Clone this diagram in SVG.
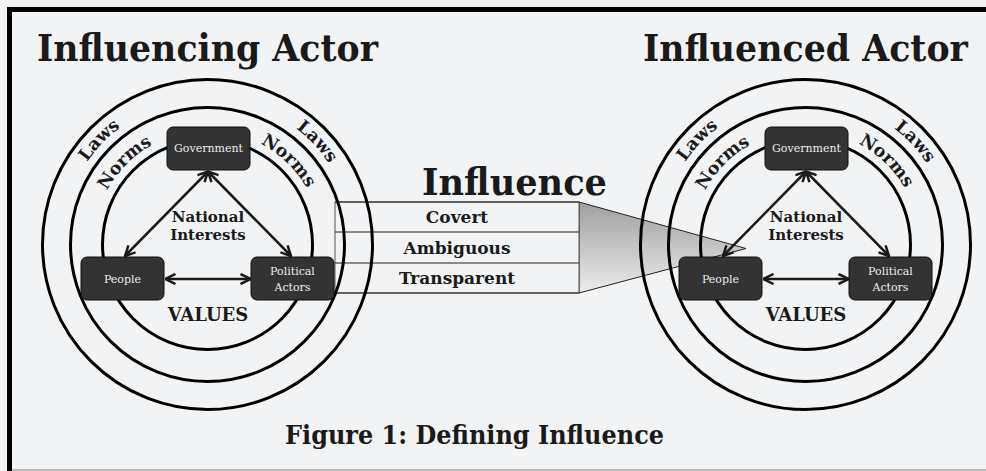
<svg xmlns="http://www.w3.org/2000/svg" width="986" height="471" viewBox="0 0 986 471">
  <defs>
    <style>
      .ring { fill: none; stroke: #000; stroke-width: 3; }
      .band { font-family: "DejaVu Serif", "Liberation Serif", serif; font-weight: bold; font-size: 17.5px; fill: #1a1a1a; }
      .box { fill: #333; stroke: #111; stroke-width: 1; }
      .boxtxt { font-family: "DejaVu Serif", "Liberation Serif", serif; font-size: 11px; fill: #ececec; text-anchor: middle; }
      .title { font-family: "DejaVu Serif", "Liberation Serif", serif; font-weight: bold; font-size: 38px; fill: #1a1a1a; }
      .lbl { font-family: "DejaVu Serif", "Liberation Serif", serif; font-weight: bold; fill: #1a1a1a; text-anchor: middle; }
      .link { fill: none; stroke: #1a1a1a; stroke-width: 2.5; marker-start: url(#chev); marker-end: url(#chev); }
      .row { stroke: #222; stroke-width: 1.2; }
    </style>
    <marker id="chev" viewBox="0 0 12 12" refX="11" refY="6" markerWidth="12" markerHeight="12" markerUnits="userSpaceOnUse" orient="auto-start-reverse">
      <path d="M1,1 L11,6 L1,11" fill="none" stroke="#1a1a1a" stroke-width="2.5" stroke-linejoin="miter"/>
    </marker>
    <linearGradient id="funnelFill" gradientUnits="userSpaceOnUse" x1="0" y1="202" x2="0" y2="293">
      <stop offset="0" stop-color="#9f9f9f"/>
      <stop offset="1" stop-color="#ececec"/>
    </linearGradient>
    <!-- baseline arcs for the ring labels, centred on (207.5, 244.5) -->
    <path id="arcLaws" d="M61.5,244.5 A146,146 0 0 1 353.5,244.5"/>
    <path id="arcNorms" d="M93.5,244.5 A114,114 0 0 1 321.5,244.5"/>
  </defs>

  <!-- page and frame -->
  <rect x="0" y="0" width="986" height="471" fill="#f2f3f5"/>
  <line x1="7" y1="9.5" x2="986" y2="9.5" stroke="#000" stroke-width="5"/>
  <line x1="9.5" y1="7" x2="9.5" y2="471" stroke="#000" stroke-width="5"/>
  <line x1="12" y1="470" x2="986" y2="470" stroke="#a8a8a8" stroke-width="1.5"/>

  <!-- titles -->
  <text class="title" x="37" y="61" textLength="341" lengthAdjust="spacingAndGlyphs">Influencing Actor</text>
  <text class="title" transform="translate(643,61) scale(0.9,1)" x="0" y="0" textLength="361" lengthAdjust="spacingAndGlyphs">Influenced Actor</text>
  <text class="title" x="422" y="195" font-size="37" textLength="185" lengthAdjust="spacingAndGlyphs">Influence</text>

  <!-- influence channel: funnel and table -->
  <g id="influence">
    <polygon points="579,202 746,248.5 579,293" fill="url(#funnelFill)" stroke="#222" stroke-width="1"/>
    <rect x="335" y="202" width="244" height="91" fill="#f2f3f5" stroke="#555" stroke-width="1"/>
    <line class="row" x1="335" y1="202" x2="579" y2="202"/>
    <line class="row" x1="335" y1="232" x2="579" y2="232"/>
    <line class="row" x1="335" y1="263" x2="579" y2="263"/>
    <line class="row" x1="335" y1="293" x2="579" y2="293"/>
    <text class="lbl" x="457" y="223" font-size="17">Covert</text>
    <text class="lbl" x="457" y="254" font-size="17">Ambiguous</text>
    <text class="lbl" x="457" y="284" font-size="17">Transparent</text>
  </g>

  <!-- influencing actor rings -->
  <g id="rings-left">
    <circle class="ring" cx="207.5" cy="244.5" r="165"/>
    <circle class="ring" cx="207.5" cy="244.5" r="137"/>
    <circle class="ring" cx="207.5" cy="244.5" r="105"/>
    <text class="band"><textPath href="#arcLaws" startOffset="24.4%" text-anchor="middle">Laws</textPath></text>
    <text class="band"><textPath href="#arcLaws" startOffset="76%" text-anchor="middle">Laws</textPath></text>
    <text class="band"><textPath href="#arcNorms" startOffset="24.8%" text-anchor="middle">Norms</textPath></text>
    <text class="band"><textPath href="#arcNorms" startOffset="74.5%" text-anchor="middle">Norms</textPath></text>
    <text class="lbl" x="208" y="222" font-size="15">National</text>
    <text class="lbl" x="208" y="240" font-size="15">Interests</text>
    <text class="lbl" x="208" y="321" font-size="18" fill="#2a2a2a">VALUES</text>
  </g>

  <!-- influenced actor rings -->
  <g id="rings-right" transform="translate(598,0)">
    <circle class="ring" cx="207.5" cy="244.5" r="165"/>
    <circle class="ring" cx="207.5" cy="244.5" r="137"/>
    <circle class="ring" cx="207.5" cy="244.5" r="105"/>
    <text class="band"><textPath href="#arcLaws" startOffset="24.4%" text-anchor="middle">Laws</textPath></text>
    <text class="band"><textPath href="#arcLaws" startOffset="76%" text-anchor="middle">Laws</textPath></text>
    <text class="band"><textPath href="#arcNorms" startOffset="24.8%" text-anchor="middle">Norms</textPath></text>
    <text class="band"><textPath href="#arcNorms" startOffset="74.5%" text-anchor="middle">Norms</textPath></text>
    <text class="lbl" x="208" y="222" font-size="15">National</text>
    <text class="lbl" x="208" y="240" font-size="15">Interests</text>
    <text class="lbl" x="208" y="321" font-size="18" fill="#2a2a2a">VALUES</text>
  </g>

  <!-- connectors -->
  <g id="connectors">
    <line class="link" x1="208" y1="171.5" x2="125" y2="256"/>
    <line class="link" x1="208" y1="171.5" x2="291" y2="256"/>
    <line class="link" x1="165.5" y1="279" x2="250.5" y2="279"/>
    <line class="link" x1="806" y1="171.5" x2="723" y2="256"/>
    <line class="link" x1="806" y1="171.5" x2="889" y2="256"/>
    <line class="link" x1="763.5" y1="279" x2="848.5" y2="279"/>
  </g>

  <!-- influencing actor nodes -->
  <g id="gov-left">
    <rect class="box" x="167" y="127" width="83" height="43" rx="6"/>
    <text class="boxtxt" x="208.5" y="152">Government</text>
  </g>
  <g id="people-left">
    <rect class="box" x="81" y="257" width="83" height="43" rx="6"/>
    <text class="boxtxt" x="122.5" y="283">People</text>
  </g>
  <g id="political-left">
    <rect class="box" x="251" y="257" width="83" height="43" rx="6"/>
    <text class="boxtxt" x="292.5" y="275">Political</text>
    <text class="boxtxt" x="292.5" y="291">Actors</text>
  </g>

  <!-- influenced actor nodes -->
  <g id="gov-right">
    <rect class="box" x="765" y="127" width="83" height="43" rx="6"/>
    <text class="boxtxt" x="806.5" y="152">Government</text>
  </g>
  <g id="people-right">
    <rect class="box" x="679" y="257" width="83" height="43" rx="6"/>
    <text class="boxtxt" x="720.5" y="283">People</text>
  </g>
  <g id="political-right">
    <rect class="box" x="849" y="257" width="83" height="43" rx="6"/>
    <text class="boxtxt" x="890.5" y="275">Political</text>
    <text class="boxtxt" x="890.5" y="291">Actors</text>
  </g>

  <!-- caption -->
  <text class="lbl" x="474.5" y="444" font-size="26" textLength="379" lengthAdjust="spacingAndGlyphs">Figure 1: Defining Influence</text>
</svg>
